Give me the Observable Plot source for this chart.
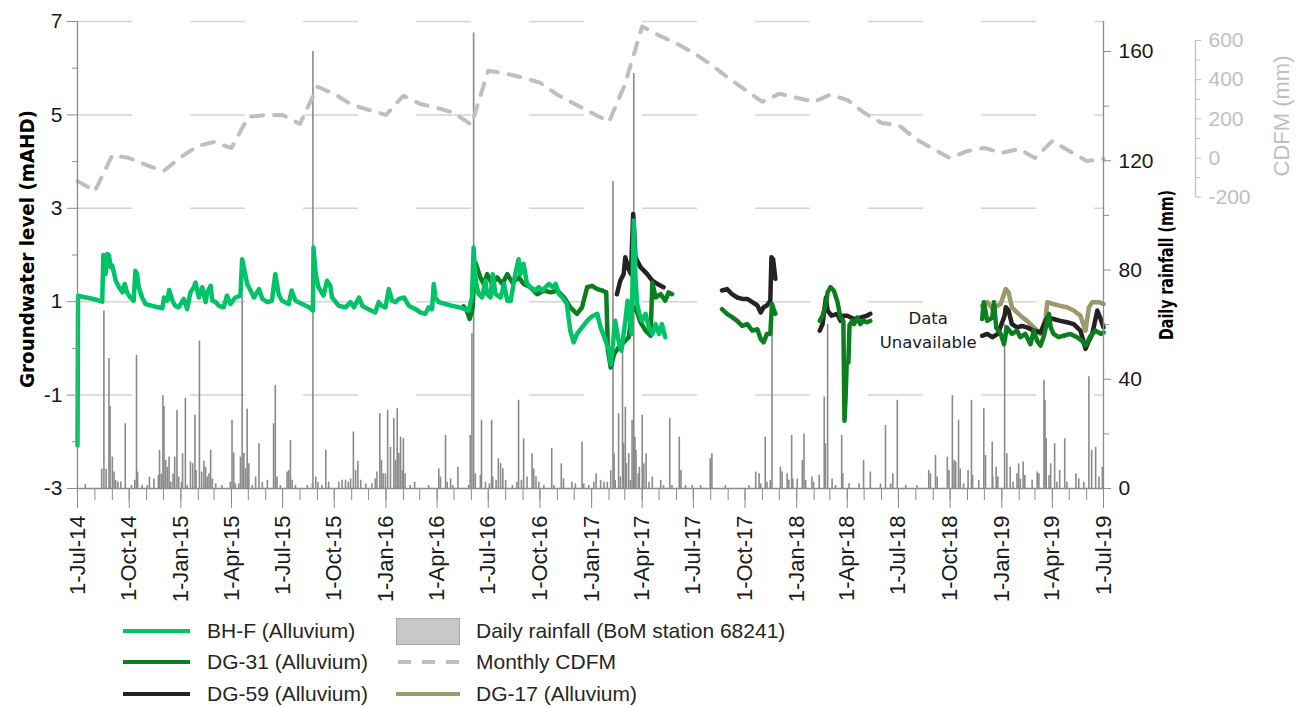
<!DOCTYPE html>
<html><head><meta charset="utf-8">
<script src="https://cdn.jsdelivr.net/npm/d3@7"></script>
<script src="https://cdn.jsdelivr.net/npm/@observablehq/plot@0.6"></script>
<style>
body{margin:0;background:#fff;}
#wrap{position:relative;width:1301px;height:707px;font-family:"Liberation Sans",Arial,sans-serif;background:#fff;}
.leg{position:absolute;font-size:21px;color:#262626;line-height:21px;white-space:nowrap;}
.sw{position:absolute;}
</style></head><body><div id="wrap"></div>
<script>
// ---------------- DATA ----------------
const xStartDate = "2014-07-01";
const xEndDate = "2019-07-01";
const gwTicks = [7, 5, 3, 1, -1, -3];
const gwMinorTicks = [6, 4, 2, 0, -2];
const rainTicks = [0, 40, 80, 120, 160];
const rainMinorTicks = [20, 60, 100, 140];
const cdfmTicks = [600, 400, 200, 0, -200];
const cdfmMinorTicks = [500, 300, 100, -100];
const rainAxisMax = 171;

const seriesNames = ["BH-F (Alluvium)", "DG-31 (Alluvium)", "DG-59 (Alluvium)", "DG-17 (Alluvium)"];
const seriesColors = ["#00C267", "#0B7F1F", "#232323", "#9C9A6B"];

const bhF = [["2014-07-01",-2.08],["2014-07-02",1.13],["2014-07-12",1.10],["2014-07-21",1.08],["2014-08-01",1.05],["2014-08-14",1.00],["2014-08-16",2.00],["2014-08-18",1.95],["2014-08-20",1.59],["2014-08-23",2.02],["2014-08-26",1.99],["2014-08-29",1.74],["2014-09-01",1.77],["2014-09-07",1.45],["2014-09-13",1.31],["2014-09-19",1.20],["2014-09-23",1.38],["2014-09-27",1.20],["2014-10-03",1.09],["2014-10-09",1.02],["2014-10-12",1.66],["2014-10-15",1.59],["2014-10-18",1.31],["2014-10-24",1.09],["2014-10-30",0.95],["2014-11-11",0.91],["2014-11-29",0.86],["2014-12-02",1.09],["2014-12-08",1.02],["2014-12-11",1.25],["2014-12-17",1.02],["2014-12-22",0.91],["2014-12-28",0.88],["2015-01-06",1.06],["2015-01-12",0.84],["2015-01-18",1.20],["2015-01-24",1.31],["2015-01-27",1.41],["2015-02-02",1.09],["2015-02-08",1.31],["2015-02-14",0.99],["2015-02-17",1.20],["2015-02-23",1.34],["2015-02-26",1.02],["2015-03-04",0.99],["2015-03-10",0.91],["2015-03-18",0.88],["2015-03-24",1.13],["2015-03-30",0.95],["2015-04-08",1.09],["2015-04-17",1.13],["2015-04-20",1.91],["2015-04-23",1.74],["2015-04-29",1.38],["2015-05-05",1.24],["2015-05-11",1.09],["2015-05-20",1.27],["2015-05-26",1.06],["2015-06-04",0.99],["2015-06-12",1.02],["2015-06-18",1.59],["2015-06-24",1.16],["2015-06-30",1.02],["2015-07-12",0.95],["2015-07-17",1.24],["2015-07-24",1.02],["2015-08-05",0.95],["2015-08-17",0.88],["2015-08-24",0.81],["2015-08-25",2.16],["2015-08-29",1.59],["2015-09-03",1.31],["2015-09-12",1.13],["2015-09-18",1.45],["2015-09-24",1.34],["2015-09-27",1.09],["2015-10-09",0.91],["2015-10-21",0.88],["2015-10-30",0.99],["2015-11-05",0.88],["2015-11-14",1.09],["2015-11-20",0.91],["2015-12-01",0.84],["2015-12-13",0.77],["2015-12-19",0.99],["2015-12-25",0.91],["2015-12-31",0.88],["2016-01-06",1.27],["2016-01-12",1.02],["2016-01-18",0.99],["2016-01-24",1.06],["2016-02-02",1.09],["2016-02-11",0.91],["2016-02-23",0.84],["2016-03-02",0.77],["2016-03-11",0.74],["2016-03-17",0.88],["2016-03-23",0.84],["2016-03-26",1.38],["2016-03-29",1.09],["2016-04-04",0.99],["2016-04-16",0.95],["2016-04-28",0.91],["2016-05-10",0.88],["2016-05-21",0.84],["2016-05-27",0.81],["2016-06-02",1.09],["2016-06-05",2.16],["2016-06-08",1.52],["2016-06-11",1.31],["2016-06-14",1.16],["2016-06-20",1.09],["2016-06-26",1.45],["2016-06-29",1.16],["2016-07-05",1.09],["2016-07-09",1.59],["2016-07-14",1.16],["2016-07-23",1.09],["2016-07-29",1.38],["2016-08-04",1.02],["2016-08-10",1.02],["2016-08-18",1.59],["2016-08-24",1.91],["2016-08-27",1.59],["2016-09-02",1.81],["2016-09-08",1.38],["2016-09-14",1.31],["2016-09-23",1.24],["2016-09-29",1.31],["2016-10-05",1.24],["2016-10-17",1.38],["2016-10-23",1.31],["2016-10-29",1.38],["2016-11-04",1.16],["2016-11-10",1.09],["2016-11-18",0.95],["2016-11-24",0.38],["2016-11-30",0.13],["2016-12-06",0.31],["2016-12-15",0.45],["2016-12-24",0.59],["2017-01-02",0.69],["2017-01-11",0.74],["2017-01-17",0.45],["2017-01-26",0.16],["2017-02-01",-0.05],["2017-02-04",-0.34],["2017-02-08",0.10],["2017-02-12",0.59],["2017-02-18",0.16],["2017-02-23",-0.05],["2017-03-02",0.59],["2017-03-06",1.02],["2017-03-09",0.74],["2017-03-13",0.31],["2017-03-17",2.74],["2017-03-20",1.52],["2017-03-23",0.95],["2017-03-27",0.74],["2017-04-01",0.59],["2017-04-07",0.74],["2017-04-13",0.45],["2017-04-19",0.31],["2017-04-25",0.52],["2017-05-01",0.31],["2017-05-06",0.52],["2017-05-12",0.24]];

const dg31 = [["2016-05-18",0.90],["2016-05-24",0.80],["2016-05-29",0.63],["2016-06-03",0.85],["2016-06-08",1.84],["2016-06-17",1.52],["2016-06-23",1.38],["2016-06-29",1.59],["2016-07-08",1.38],["2016-07-17",1.52],["2016-07-26",1.38],["2016-08-04",1.59],["2016-08-13",1.41],["2016-08-24",1.52],["2016-09-02",1.38],["2016-09-14",1.31],["2016-09-26",1.16],["2016-10-08",1.24],["2016-10-20",1.20],["2016-11-01",1.24],["2016-11-13",1.09],["2016-11-24",0.88],["2016-12-06",0.74],["2016-12-15",0.88],["2016-12-24",1.31],["2017-01-02",1.34],["2017-01-11",1.27],["2017-01-20",1.24],["2017-01-27",1.20],["2017-01-30",-0.05],["2017-02-04",-0.41],["2017-02-10",-0.12],["2017-02-18",0.02],["2017-02-27",0.13],["2017-03-08",0.24],["2017-03-14",0.81],["2017-03-20",0.88],["2017-03-29",0.56],["2017-04-07",0.38],["2017-04-16",0.27],["2017-04-19",1.41],["2017-04-25",1.09],["2017-05-04",1.16],["2017-05-12",1.02],["2017-05-18",1.20],["2017-05-24",1.16],
["2017-07-01",null],
["2017-08-21",0.84],["2017-08-30",0.74],["2017-09-08",0.67],["2017-09-17",0.59],["2017-09-26",0.48],["2017-10-05",0.52],["2017-10-14",0.38],["2017-10-23",0.41],["2017-10-29",0.20],["2017-11-03",0.13],["2017-11-09",0.31],["2017-11-15",0.31],["2017-11-18",0.95],["2017-11-21",0.84],["2017-11-24",0.74],
["2018-01-01",null],
["2018-02-11",0.59],["2018-02-16",0.70],["2018-02-22",0.95],["2018-02-25",1.20],["2018-03-02",1.31],["2018-03-08",1.24],["2018-03-14",1.02],["2018-03-20",0.66],["2018-03-25",0.59],["2018-03-27",-1.55],["2018-03-29",-1.05],["2018-03-31",-0.30],["2018-04-03",-0.30],["2018-04-05",0.50],["2018-04-10",0.59],["2018-04-13",0.52],["2018-04-19",0.66],["2018-04-24",0.52],["2018-04-30",0.59],["2018-05-06",0.56],["2018-05-12",0.59],
["2018-08-01",null],
["2018-11-27",0.63],["2018-11-30",0.99],["2018-12-06",0.59],["2018-12-15",0.66],["2018-12-18",0.99],["2018-12-22",0.45],["2018-12-30",0.31],["2019-01-05",0.09],["2019-01-10",0.45],["2019-01-19",0.31],["2019-01-28",0.38],["2019-02-03",0.24],["2019-02-12",0.31],["2019-02-21",0.09],["2019-02-27",0.38],["2019-03-05",0.16],["2019-03-11",0.06],["2019-03-17",0.27],["2019-03-26",0.74],["2019-03-29",0.45],["2019-04-03",0.31],["2019-04-12",0.24],["2019-04-21",0.27],["2019-05-03",0.31],["2019-05-15",0.24],["2019-05-24",0.16],["2019-05-30",0.06],["2019-06-08",0.27],["2019-06-17",0.38],["2019-06-26",0.31],["2019-07-01",0.34]];

const dg59 = [["2017-02-15",1.16],["2017-02-21",1.45],["2017-02-27",1.59],["2017-03-02",1.95],["2017-03-08",1.70],["2017-03-12",1.59],["2017-03-16",2.88],["2017-03-20",1.95],["2017-03-29",1.74],["2017-04-10",1.59],["2017-04-19",1.45],["2017-04-28",1.38],["2017-05-09",1.31],
["2017-07-01",null],
["2017-08-21",1.24],["2017-08-30",1.27],["2017-09-08",1.16],["2017-09-17",1.09],["2017-09-26",1.06],["2017-10-05",1.06],["2017-10-14",0.99],["2017-10-23",0.92],["2017-10-29",0.77],["2017-11-03",0.88],["2017-11-09",0.92],["2017-11-15",1.02],["2017-11-17",1.95],["2017-11-20",1.91],["2017-11-24",1.49],
["2018-01-01",null],
["2018-02-11",0.38],["2018-02-16",0.52],["2018-02-22",1.09],["2018-02-25",0.81],["2018-03-04",0.70],["2018-03-14",0.74],["2018-03-20",0.59],["2018-03-25",0.70],["2018-04-01",0.70],["2018-04-13",0.63],["2018-04-24",0.66],["2018-05-06",0.70],["2018-05-12",0.74],
["2018-08-01",null],
["2018-11-27",0.27],["2018-12-06",0.31],["2018-12-15",0.24],["2018-12-25",0.31],["2019-01-06",0.70],["2019-01-08",0.88],["2019-01-13",0.81],["2019-01-19",0.52],["2019-01-28",0.45],["2019-02-06",0.48],["2019-02-15",0.45],["2019-02-27",0.38],["2019-03-11",0.34],["2019-03-23",0.66],["2019-04-03",0.63],["2019-04-15",0.59],["2019-04-27",0.56],["2019-05-09",0.52],["2019-05-21",0.38],["2019-05-30",-0.01],["2019-06-05",0.16],["2019-06-11",0.31],["2019-06-20",0.81],["2019-06-25",0.66],["2019-07-01",0.45]];

const dg17 = [["2018-11-27",0.91],["2018-12-06",0.99],["2018-12-15",0.85],["2018-12-30",0.95],["2019-01-08",1.27],["2019-01-13",1.20],["2019-01-19",0.88],["2019-01-28",0.77],["2019-02-06",0.67],["2019-02-15",0.59],["2019-02-27",0.45],["2019-03-11",0.31],["2019-03-20",0.66],["2019-03-23",0.99],["2019-04-03",0.95],["2019-04-15",0.91],["2019-04-27",0.88],["2019-05-09",0.81],["2019-05-21",0.70],["2019-05-30",0.38],["2019-06-05",0.88],["2019-06-11",0.99],["2019-06-23",0.99],["2019-07-01",0.95]];

const cdfmMonths = ["2014-07-01","2014-08-01","2014-09-01","2014-10-01","2014-11-01","2014-12-01","2015-01-01","2015-02-01","2015-03-01","2015-04-01","2015-05-01","2015-06-01","2015-07-01","2015-08-01","2015-09-01","2015-10-01","2015-11-01","2015-12-01","2016-01-01","2016-02-01","2016-03-01","2016-04-01","2016-05-01","2016-06-01","2016-07-01","2016-08-01","2016-09-01","2016-10-01","2016-11-01","2016-12-01","2017-01-01","2017-02-01","2017-03-01","2017-04-01","2017-05-01","2017-06-01","2017-07-01","2017-08-01","2017-09-01","2017-10-01","2017-11-01","2017-12-01","2018-01-01","2018-02-01","2018-03-01","2018-04-01","2018-05-01","2018-06-01","2018-07-01","2018-08-01","2018-09-01","2018-10-01","2018-11-01","2018-12-01","2019-01-01","2019-02-01","2019-03-01","2019-04-01","2019-05-01","2019-06-01","2019-07-01"];
const cdfmValues = [-118,-169,15,0,-36,-67,5,62,82,51,210,220,220,174,364,328,272,246,220,318,277,256,231,169,446,431,410,385,323,277,231,185,374,672,626,585,538,477,410,349,287,328,308,287,323,297,231,179,169,97,46,0,36,51,26,46,0,87,36,-15,-5];

const rainfall = [["2014-07-15",1.5],["2014-08-13",7],["2014-08-17",65],["2014-08-21",7],["2014-08-26",47.6],["2014-08-28",30],["2014-09-01",11.5],["2014-09-04",6],["2014-09-07",3],["2014-09-11",2.4],["2014-09-16",2.4],["2014-09-24",23.7],["2014-10-05",1.1],["2014-10-11",3],["2014-10-14",48.8],["2014-10-16",6],["2014-10-24",1.1],["2014-11-02",1.1],["2014-11-06",4.2],["2014-11-14",3.5],["2014-11-22",4.8],["2014-11-24",14],["2014-11-27",5.3],["2014-11-30",34],["2014-12-02",30],["2014-12-05",10.3],["2014-12-08",7.8],["2014-12-11",11.5],["2014-12-14",2.3],["2014-12-18",5.3],["2014-12-21",11.5],["2014-12-25",28.6],["2014-12-28",4.2],["2015-01-02",2.3],["2015-01-04",12.7],["2015-01-09",33],["2015-01-12",1.1],["2015-01-18",9.7],["2015-01-22",9.1],["2015-01-26",26.8],["2015-01-28",6.6],["2015-02-03",54],["2015-02-07",6],["2015-02-11",10],["2015-02-14",7.8],["2015-02-17",4.2],["2015-02-20",5.4],["2015-02-23",14],["2015-02-26",3.5],["2015-03-04",1.7],["2015-03-15",1.1],["2015-03-30",2.3],["2015-04-02",25],["2015-04-05",13],["2015-04-08",1.7],["2015-04-14",1.7],["2015-04-17",11.5],["2015-04-20",70],["2015-04-23",12.8],["2015-04-26",7.2],["2015-04-29",29],["2015-05-02",9.1],["2015-05-08",1.1],["2015-05-14",4.2],["2015-05-20",16.4],["2015-05-26",2.3],["2015-06-04",3],["2015-06-15",23.7],["2015-06-18",37.8],["2015-06-21",4.2],["2015-06-27",1.1],["2015-07-09",6],["2015-07-12",6.6],["2015-07-15",17.6],["2015-07-18",3],["2015-07-24",1.1],["2015-08-14",1.1],["2015-08-23",1.7],["2015-08-24",160],["2015-08-29",4.2],["2015-09-02",2.3],["2015-09-09",1.1],["2015-09-16",14],["2015-09-21",2.3],["2015-10-09",2.3],["2015-10-15",3],["2015-10-21",3],["2015-10-26",2.3],["2015-10-30",3.5],["2015-11-04",20.7],["2015-11-08",6.6],["2015-11-12",10],["2015-11-17",3],["2015-11-26",1.7],["2015-12-07",1.7],["2015-12-13",3.5],["2015-12-16",6],["2015-12-21",27.4],["2015-12-24",10.3],["2015-12-27",5.4],["2015-12-31",5.4],["2016-01-04",28.6],["2016-01-09",15],["2016-01-15",25.6],["2016-01-18",10.3],["2016-01-21",29.2],["2016-01-24",12.8],["2016-01-27",18.8],["2016-01-30",6.6],["2016-02-01",18.2],["2016-02-04",5.4],["2016-02-13",1.1],["2016-02-21",2.3],["2016-03-17",1.1],["2016-04-04",7.2],["2016-04-07",4.2],["2016-04-16",19.4],["2016-04-19",2.3],["2016-04-25",3.5],["2016-04-29",1.1],["2016-05-08",7.8],["2016-05-27",1.1],["2016-05-30",19.4],["2016-06-02",56.8],["2016-06-05",166.8],["2016-06-08",5.4],["2016-06-17",4.8],["2016-06-19",25],["2016-06-26",2.3],["2016-07-03",1.7],["2016-07-07",25],["2016-07-09",4.2],["2016-07-15",3],["2016-07-19",10.9],["2016-07-23",9.1],["2016-07-27",7.2],["2016-08-01",3],["2016-08-13",1.1],["2016-08-21",2.3],["2016-08-24",32.3],["2016-08-29",3],["2016-09-02",18.2],["2016-09-08",4.2],["2016-09-17",12.7],["2016-09-20",7.2],["2016-09-24",4.2],["2016-09-29",2.3],["2016-10-08",1.1],["2016-10-22",14.6],["2016-10-26",1.1],["2016-11-08",9],["2016-11-12",3.5],["2016-11-27",2.3],["2016-12-03",1.7],["2016-12-15",17],["2016-12-18",1.7],["2016-12-27",1.1],["2017-01-05",2.3],["2017-01-09",5.4],["2017-01-17",3],["2017-01-23",2.3],["2017-01-29",2.3],["2017-02-04",6.6],["2017-02-08",112.4],["2017-02-10",12.7],["2017-02-12",3],["2017-02-18",27.4],["2017-02-21",4.2],["2017-02-25",50],["2017-02-27",16.4],["2017-03-02",29.8],["2017-03-04",9.1],["2017-03-08",12.8],["2017-03-11",3],["2017-03-14",25],["2017-03-17",152],["2017-03-19",18.8],["2017-03-21",14],["2017-03-25",5.4],["2017-03-27",7.8],["2017-04-01",26.8],["2017-04-04",9.1],["2017-04-08",12.7],["2017-04-13",2.3],["2017-04-19",4.2],["2017-05-04",3],["2017-05-09",1.1],["2017-05-20",25.6],["2017-05-24",1.1],["2017-06-06",18.8],["2017-06-09",6.6],["2017-06-17",1.1],["2017-06-29",1.1],["2017-07-14",1.1],["2017-07-31",10.9],["2017-08-03",12.7],["2017-08-27",1.1],["2017-10-08",1.1],["2017-10-20",6],["2017-10-26",5.4],["2017-10-29",1.7],["2017-11-06",18.8],["2017-11-09",2.3],["2017-11-15",3],["2017-11-18",68],["2017-12-03",7.8],["2017-12-06",6],["2017-12-15",5.4],["2017-12-18",3],["2017-12-23",19.4],["2017-12-25",3.5],["2018-01-02",3.5],["2018-01-11",10.3],["2018-01-14",20],["2018-01-17",3],["2018-01-28",4.2],["2018-01-31",2.3],["2018-02-10",4.8],["2018-02-19",33.5],["2018-02-21",16.4],["2018-02-25",60],["2018-03-05",3.5],["2018-03-11",1.1],["2018-03-22",19.4],["2018-03-24",5.4],["2018-04-04",1.7],["2018-04-22",1.7],["2018-04-30",10.3],["2018-05-12",6],["2018-05-30",1.7],["2018-06-08",23.1],["2018-06-17",1.7],["2018-06-21",5.4],["2018-06-29",32.3],["2018-07-14",1.1],["2018-08-03",1.1],["2018-08-24",6.6],["2018-08-27",5.4],["2018-09-05",12.1],["2018-09-08",4.2],["2018-09-26",11.5],["2018-09-29",6.6],["2018-10-05",34],["2018-10-08",10.3],["2018-10-11",9.7],["2018-10-16",25],["2018-10-19",7.2],["2018-10-25",1.7],["2018-11-02",6.6],["2018-11-08",32.3],["2018-11-10",4.8],["2018-11-21",3],["2018-11-30",29.2],["2018-12-03",12.1],["2018-12-15",17],["2018-12-16",4.2],["2018-12-22",7.8],["2018-12-25",4.2],["2019-01-06",60],["2019-01-10",12.7],["2019-01-16",7.8],["2019-01-21",2.3],["2019-01-28",5.4],["2019-01-31",9],["2019-02-03",3.5],["2019-02-08",9.7],["2019-02-11",4.8],["2019-02-24",3],["2019-03-05",6],["2019-03-08",5.4],["2019-03-17",39.6],["2019-03-19",32.3],["2019-03-21",18.2],["2019-03-26",4.8],["2019-03-29",9],["2019-04-05",16.4],["2019-04-09",2.3],["2019-04-14",6.6],["2019-04-23",18.2],["2019-04-27",2.3],["2019-05-13",5.4],["2019-05-18",3.5],["2019-05-27",2.3],["2019-06-05",40.9],["2019-06-10",14],["2019-06-17",15],["2019-06-23",4.2],["2019-06-29",7.8]];

const noteText = "Data\nUnavailable";
const noteDate = "2018-08-23";
const noteLevel = 0.43;

// ---------------- BUILD ----------------
const xStart = new Date(xStartDate), xEnd = new Date(xEndDate);
const rows = (arr) => arr.map(([d, v]) => ({date: new Date(d), v}));
const rainToGw = d3.scaleLinear([0, rainAxisMax], [-3, 7]);
const gwToRain = rainToGw.invert;
const cdfmToGw = d3.scaleLinear([-200, 600], [3.238, 6.593]);
const cdfmRows = cdfmMonths.map((d, i) => ({date: new Date(d), v: cdfmValues[i]}));
const rainRows = rainfall.map(([d, mm]) => ({date: new Date(d), mm}));
const months = d3.utcMonth.range(xStart, d3.utcDay.offset(xEnd, 1));
const quarters = d3.utcMonth.every(3).range(xStart, d3.utcDay.offset(xEnd, 1));
const fmt = d3.utcFormat("%-d-%b-%y");
const axisGray = "#8C8C8C";
const cdfmGray = "#BFBFBF";
const lineW = 4.5;

const chart = Plot.plot({
  width: 1301, height: 620,
  marginLeft: 77, marginRight: 198, marginTop: 21, marginBottom: 132,
  style: {fontFamily: "'Liberation Sans', Arial, sans-serif", fontSize: "21px", color: "#1a1a1a", background: "#fff", overflow: "visible"},
  x: {type: "utc", domain: [xStart, xEnd]},
  y: {domain: [-3, 7]},
  marks: [
    Plot.ruleY(gwTicks.filter(v => v > -3), {stroke: "#D4D4D4", strokeWidth: 1.5, strokeDasharray: "55,58"}),
    Plot.ruleX(rainRows, {x: "date", y1: -3, y2: d => rainToGw(d.mm), stroke: "#8A8A8A", strokeWidth: 1.6}),
    Plot.line(cdfmRows, {x: "date", y: d => cdfmToGw(d.v), stroke: cdfmGray, strokeWidth: 4, strokeDasharray: "12,11"}),
    Plot.line(rows(dg17), {x: "date", y: "v", stroke: seriesColors[3], strokeWidth: lineW, strokeLinejoin: "round"}),
    Plot.line(rows(dg59), {x: "date", y: "v", stroke: seriesColors[2], strokeWidth: lineW, strokeLinejoin: "round"}),
    Plot.line(rows(dg31), {x: "date", y: "v", stroke: seriesColors[1], strokeWidth: lineW, strokeLinejoin: "round"}),
    Plot.line(rows(bhF), {x: "date", y: "v", stroke: seriesColors[0], strokeWidth: lineW, strokeLinejoin: "round"}),
    // axis lines
    Plot.ruleX([xStart], {stroke: axisGray, strokeWidth: 1.3}),
    Plot.ruleX([xEnd], {stroke: axisGray, strokeWidth: 1.3}),
    Plot.ruleY([-3], {stroke: axisGray, strokeWidth: 1.3}),
    Plot.ruleX([xEnd], {y1: cdfmToGw(-200), y2: cdfmToGw(600), dx: 92, stroke: cdfmGray, strokeWidth: 1.3}),
    // left axis
    Plot.axisY({ticks: gwTicks, tickSize: 10, tickPadding: 5, tickFormat: v => String(v), label: null, stroke: axisGray, fill: "#1a1a1a", fontSize: 21}),
    Plot.axisY({ticks: gwMinorTicks, tickSize: 5, tickFormat: () => "", label: null, stroke: axisGray}),
    // rainfall axis
    Plot.axisY({anchor: "right", ticks: rainTicks.map(rainToGw), tickFormat: v => String(Math.round(gwToRain(v))), tickSize: 7, tickPadding: 8, label: null, stroke: axisGray, fill: "#1a1a1a", fontSize: 21}),
    Plot.axisY({anchor: "right", ticks: rainMinorTicks.map(rainToGw), tickSize: 5, tickFormat: () => "", label: null, stroke: axisGray}),
    // CDFM axis
    Plot.axisY({anchor: "right", dx: 92, ticks: cdfmTicks.map(cdfmToGw), tickFormat: v => String(Math.round(cdfmToGw.invert(v))), tickSize: 5, tickPadding: 8, label: null, stroke: cdfmGray, fill: cdfmGray, fontSize: 21}),
    Plot.axisY({anchor: "right", dx: 92, ticks: cdfmMinorTicks.map(cdfmToGw), tickSize: 4, tickFormat: () => "", label: null, stroke: cdfmGray}),
    // x axis ticks and labels
    Plot.axisX({ticks: months, tickSize: 12, tickFormat: () => "", label: null, stroke: axisGray}),
    Plot.axisX({ticks: quarters, tickSize: 20, tickFormat: () => "", label: null, stroke: axisGray}),
    Plot.text(quarters, {x: d => d, frameAnchor: "bottom", text: d => fmt(d), rotate: -90, textAnchor: "end", lineAnchor: "middle", dy: 27, fontSize: 22, fill: "#1a1a1a"}),
    // annotation
    Plot.text([noteText], {x: () => new Date(noteDate), y: () => noteLevel, text: d => d, fontFamily: "'DejaVu Sans', sans-serif", fontSize: 16.5, lineHeight: 1.42, fill: "#1a1a1a", lineAnchor: "middle", textAnchor: "middle"}),
    // axis titles
    Plot.text(["Groundwater level (mAHD)"], {frameAnchor: "left", dx: -50, dy: -6, rotate: -90, textAnchor: "middle", fontWeight: "bold", fontSize: 19, fontFamily: "'DejaVu Sans', sans-serif", fill: "#000"}),
    Plot.text(["Daily rainfall (mm)"], {frameAnchor: "right", dx: 63, dy: 10, rotate: -90, textAnchor: "middle", fontWeight: "bold", fontSize: 19, fontFamily: "'DejaVu Sans', sans-serif", fill: "#000"}),
    Plot.text(["CDFM (mm)"], {frameAnchor: "right", dx: 178, dy: -139, rotate: -90, textAnchor: "middle", fontSize: 22, fill: cdfmGray})
  ]
});

// condense the bold axis titles
d3.select(chart).selectAll("text").each(function() {
  const t = this.textContent;
  if (t === "Groundwater level (mAHD)") d3.select(this).attr("textLength", 278).attr("lengthAdjust", "spacingAndGlyphs");
  if (t === "Daily rainfall (mm)") d3.select(this).attr("textLength", 150).attr("lengthAdjust", "spacingAndGlyphs");
});

const wrap = document.getElementById("wrap");
chart.style.position = "absolute";
chart.style.left = "0px";
chart.style.top = "0px";
wrap.appendChild(chart);

// ---------------- LEGEND ----------------
function addLine(left, top, width, color, dashed) {
  const el = document.createElement("div");
  el.className = "sw";
  el.style.left = left + "px"; el.style.top = top + "px";
  el.style.width = width + "px"; el.style.height = "4px";
  el.style.background = dashed
    ? `repeating-linear-gradient(to right, ${color} 0 13px, transparent 13px 24px)`
    : color;
  wrap.appendChild(el);
}
function addText(left, top, text) {
  const el = document.createElement("div");
  el.className = "leg";
  el.style.left = left + "px"; el.style.top = top + "px";
  el.textContent = text;
  wrap.appendChild(el);
}
const rowY = [631, 662, 694];
addLine(123, rowY[0] - 2, 67, seriesColors[0]); addText(207, rowY[0] - 11, seriesNames[0]);
addLine(123, rowY[1] - 2, 67, seriesColors[1]); addText(207, rowY[1] - 11, seriesNames[1]);
addLine(123, rowY[2] - 2, 67, seriesColors[2]); addText(207, rowY[2] - 11, seriesNames[2]);
{
  const r = document.createElement("div");
  r.className = "sw";
  Object.assign(r.style, {left: "396px", top: "618px", width: "62px", height: "25px", background: "#C8C8C8", border: "1px solid #A8A8A8"});
  wrap.appendChild(r);
}
addText(476, rowY[0] - 11, "Daily rainfall (BoM station 68241)");
addLine(398, rowY[1] - 2, 62, cdfmGray, true); addText(476, rowY[1] - 11, "Monthly CDFM");
addLine(396, rowY[2] - 2, 64, seriesColors[3]); addText(476, rowY[2] - 11, seriesNames[3]);
</script></body></html>
